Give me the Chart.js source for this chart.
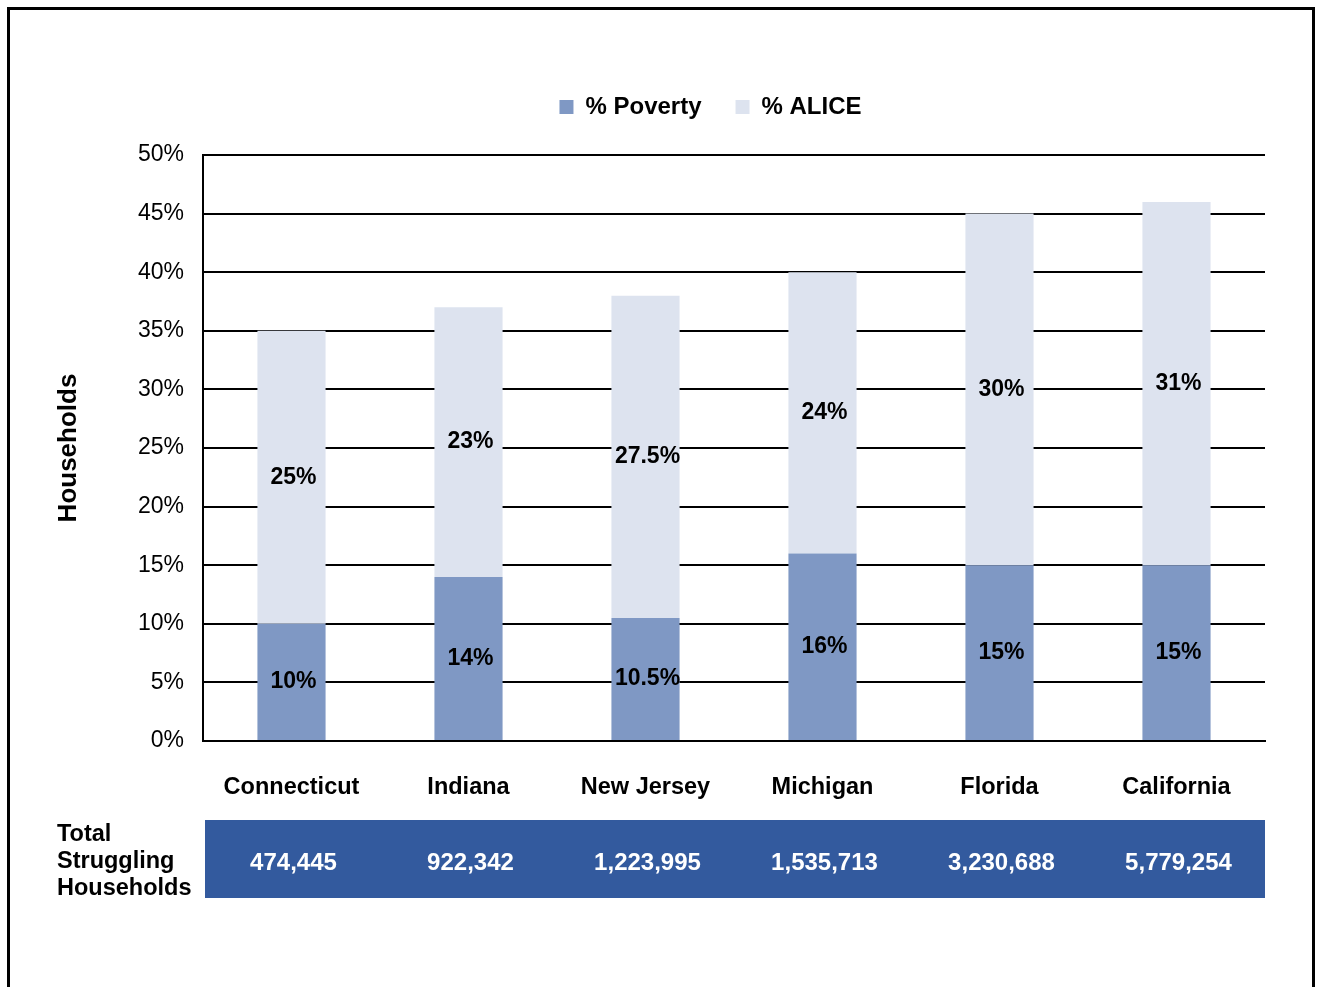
<!DOCTYPE html>
<html>
<head>
<meta charset="utf-8">
<script src="https://cdn.jsdelivr.net/npm/chart.js@4.4.1/dist/chart.umd.min.js"></script>
<style>
  html, body { margin: 0; padding: 0; background: #fff; overflow: hidden; }
  #frame { position: absolute; left: 7px; top: 7px; width: 1302px; height: 1100px; border: 3px solid #000; box-sizing: content-box; }
  #wrap { position: absolute; left: 0; top: 0; width: 1319px; height: 987px; }
</style>
</head>
<body>
<div id="frame"></div>
<div id="wrap"><canvas id="c" width="1319" height="987"></canvas></div>
<script>
const states = ['Connecticut', 'Indiana', 'New Jersey', 'Michigan', 'Florida', 'California'];
const povertyPct = [10, 14, 10.5, 16, 15, 15];
const alicePct = [25, 23, 27.5, 24, 30, 31];
const totalStruggling = [474445, 922342, 1223995, 1535713, 3230688, 5779254];
const rowLabel = ['Total', 'Struggling', 'Households'];
const yMin = 0, yMax = 50, yStep = 5;

const FONT = '"Liberation Sans", Arial, sans-serif';

const legendTweak = {
  id: 'legendTweak',
  beforeLayout(chart) {
    const lg = chart.legend;
    if (lg && !lg._patched) {
      const origFit = lg.fit;
      lg.fit = function () { origFit.call(this); this.height += 26; };
      const origDraw = lg.draw;
      lg.draw = function () {
        const ctx = this.ctx;
        ctx.save();
        ctx.translate(78, 0);
        origDraw.call(this);
        ctx.restore();
      };
      lg._patched = true;
    }
  }
};

const barLabels = {
  id: 'barLabels',
  afterDatasetsDraw(chart) {
    const ctx = chart.ctx;
    ctx.save();
    ctx.font = 'bold 23px ' + FONT;
    ctx.fillStyle = '#000';
    ctx.textAlign = 'center';
    ctx.textBaseline = 'middle';
    chart.data.datasets.forEach((ds, i) => {
      const meta = chart.getDatasetMeta(i);
      meta.data.forEach((bar, j) => {
        const p = bar.getProps(['x', 'y', 'base'], true);
        ctx.fillText(ds.data[j] + '%', p.x + 2, (p.y + p.base) / 2);
      });
    });
    ctx.restore();
  }
};

const totalsRow = {
  id: 'totalsRow',
  afterDraw(chart) {
    const ctx = chart.ctx;
    const area = chart.chartArea;
    const xs = chart.scales.x;
    const top = area.bottom + 79;
    const h = 78;
    ctx.save();
    ctx.fillStyle = '#335A9E';
    ctx.fillRect(area.left + 2, top, area.right - area.left - 2, h);
    ctx.font = 'bold 24px ' + FONT;
    ctx.textBaseline = 'middle';
    ctx.textAlign = 'center';
    ctx.fillStyle = '#fff';
    totalStruggling.forEach((v, i) => {
      ctx.fillText(v.toLocaleString('en-US'), xs.getPixelForValue(i) + 2, top + h / 2 + 4);
    });
    ctx.font = 'bold 23.5px ' + FONT;
    ctx.fillStyle = '#000';
    ctx.textAlign = 'left';
    rowLabel.forEach((t, i) => {
      ctx.fillText(t, 57, top + 15 + i * 27);
    });
    ctx.restore();
  }
};

new Chart(document.getElementById('c'), {
  type: 'bar',
  data: {
    labels: states,
    datasets: [
      { label: '% Poverty', data: povertyPct, backgroundColor: '#7F98C4' },
      { label: '% ALICE', data: alicePct, backgroundColor: '#DDE3EF' }
    ]
  },
  options: {
    responsive: false,
    animation: false,
    devicePixelRatio: 1,
    layout: { padding: { left: 0, right: 54, top: 61, bottom: 0 } },
    datasets: { bar: { categoryPercentage: 1, barPercentage: 0.385 } },
    plugins: {
      tooltip: { enabled: false },
      legend: {
        position: 'top',
        labels: {
          boxWidth: 14, boxHeight: 14, padding: 34,
          color: '#000',
          font: { family: FONT, size: 24, weight: 'bold' }
        }
      }
    },
    scales: {
      x: {
        stacked: true,
        grid: { display: false },
        border: { display: true, color: '#000', width: 2 },
        ticks: { color: '#000', padding: 24, maxRotation: 0, font: { family: FONT, size: 23.5, weight: 'bold' } },
        afterFit(s) { s.height = 246; }
      },
      y: {
        stacked: true,
        min: yMin, max: yMax,
        grid: { color: '#000', lineWidth: 2, drawTicks: false },
        border: { display: true, color: '#000', width: 2 },
        ticks: {
          stepSize: yStep, padding: 19, color: '#000',
          font: { family: FONT, size: 23 },
          callback: v => v + '%'
        },
        title: {
          display: true, text: 'Households', color: '#000',
          font: { family: FONT, size: 26, weight: 'bold' },
          padding: { top: 53, bottom: 0 }
        },
        afterFit(s) { s.width = 203; }
      }
    }
  },
  plugins: [legendTweak, barLabels, totalsRow]
});
</script>
</body>
</html>
